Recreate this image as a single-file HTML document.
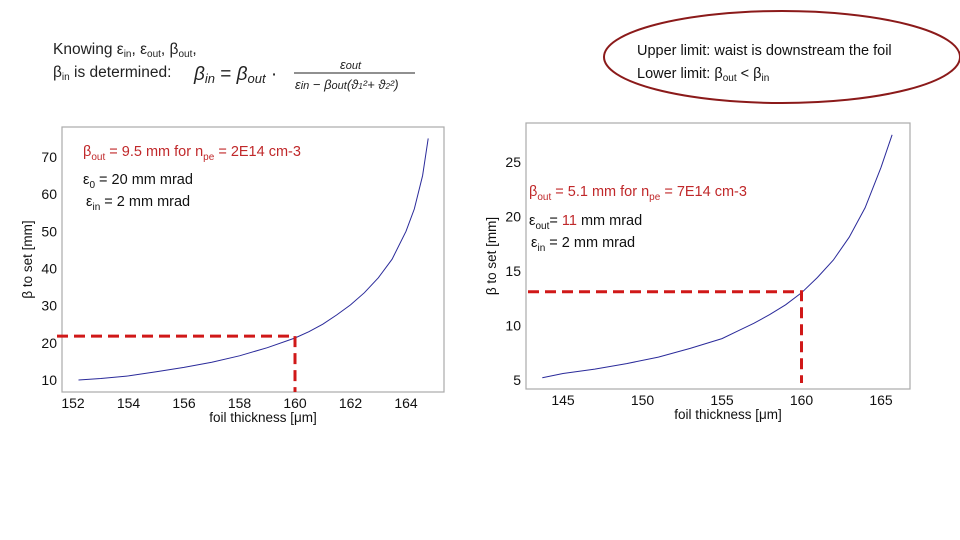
<!DOCTYPE html>
<html><head><meta charset="utf-8"><style>
body{margin:0;background:#fff;}
#root{position:relative;width:960px;height:540px;overflow:hidden;font-family:"Liberation Sans",sans-serif;}
text{font-family:"Liberation Sans",sans-serif;}
</style></head><body>
<div id="root">
<svg id="svg" width="960" height="540">
 <g fill="#222">
  <text x="53" y="54" font-size="15.5">Knowing  ε<tspan font-size="10" dy="3">in</tspan><tspan dy="-3">, ε</tspan><tspan font-size="10" dy="3">out</tspan><tspan dy="-3">, β</tspan><tspan font-size="10" dy="3">out</tspan><tspan dy="-3">,</tspan></text>
  <text x="53" y="77" font-size="15.5">β<tspan font-size="10" dy="3">in</tspan><tspan dy="-3"> is determined:</tspan></text>
  <text x="194" y="80" font-size="19" font-style="italic" font-family="Liberation Serif">β<tspan font-size="13" dy="3">in</tspan><tspan dy="-3" font-style="normal">  =  </tspan>β<tspan font-size="13" dy="3">out</tspan><tspan dy="-3" font-style="normal"> ·</tspan></text>
  <text x="340" y="69" font-size="13" font-style="italic" font-family="Liberation Serif">ε<tspan font-size="11">out</tspan></text>
  <line x1="294" y1="73" x2="415" y2="73" stroke="#222" stroke-width="1"/>
  <text x="295" y="89" font-size="13" font-style="italic" font-family="Liberation Serif">ε<tspan font-size="11">in</tspan> − β<tspan font-size="11">out</tspan>(ϑ<tspan font-size="8">1</tspan>²+ ϑ<tspan font-size="8">2</tspan>²)</text>
 </g>
 <g>
  <ellipse cx="782" cy="57" rx="178" ry="46" fill="none" stroke="#8b1a1a" stroke-width="2"/>
  <text x="637" y="55" font-size="14.5" fill="#111">Upper limit: waist is downstream the foil</text>
  <text x="637" y="78" font-size="14.5" fill="#111">Lower limit: β<tspan font-size="10" dy="3">out</tspan><tspan dy="-3"> &lt; β</tspan><tspan font-size="10" dy="3">in</tspan></text>
 </g>
 <g id="left"></g>
 <g id="right"></g>
</svg>
</div>
<script>
const leftX=[152.2,153,154,155,156,157,158,159,160,160.5,161,161.5,162,162.5,163,163.5,164,164.3,164.6,164.8];
const leftY=[10,10.4,11.1,12.2,13.4,14.8,16.5,18.7,21.3,23,25,27.5,30.2,33.5,37.5,42.5,50,56,65,75];
const leftXTicks=[152,154,156,158,160,162,164];
const leftYTicks=[10,20,30,40,50,60,70];
const rightX=[143.7,145,147,149,151,153,155,156,157,158,159,160,161,162,163,164,165,165.7];
const rightY=[5.2,5.6,6.0,6.5,7.1,7.9,8.8,9.5,10.2,11.0,11.9,13.0,14.4,16.0,18.1,20.8,24.5,27.5];
const rightXTicks=[145,150,155,160,165];
const rightYTicks=[5,10,15,20,25];
const NS='http://www.w3.org/2000/svg';
function mk(parent,tag,attrs){const e=document.createElementNS(NS,tag);for(const k in attrs)e.setAttribute(k,attrs[k]);parent.appendChild(e);return e;}
function chart(g,cfg){
 const sx=v=>cfg.x0p+(v-cfg.x0)*cfg.kx, sy=v=>cfg.y0p-(v-cfg.y0)*cfg.ky;
 const box=mk(g,'rect',{x:cfg.bx,y:cfg.by,width:cfg.bw,height:cfg.bh,fill:'none',stroke:'#aaa','stroke-width':1.2});
 
 
 cfg.xt.forEach(t=>{const tx=mk(g,'text',{x:sx(t),y:cfg.by+cfg.bh+16,'font-size':14,'text-anchor':'middle',fill:'#111'});tx.textContent=t;
  
  });
 cfg.yt.forEach(t=>{const tx=mk(g,'text',{x:cfg.bx-5,y:sy(t)+5,'font-size':14,'text-anchor':'end',fill:'#111'});tx.textContent=t;
  
  });
 const xl=mk(g,'text',{x:cfg.bx+cfg.bw/2+10,y:cfg.by+cfg.bh+30,'font-size':13.5,'text-anchor':'middle',fill:'#111'});xl.textContent='foil thickness [μm]';
 
 
 const cy=cfg.by+cfg.bh/2;
 const yl=mk(g,'text',{x:cfg.bx-30,y:cy,'font-size':13.5,'text-anchor':'middle',fill:'#111',transform:`rotate(-90 ${cfg.bx-30} ${cy})`});yl.textContent='β to set [mm]';
 
 
 const d=cfg.xs.map((v,i)=>(i?'L':'M')+sx(v).toFixed(1)+' '+sy(cfg.ys[i]).toFixed(1)).join(' ');
 const p=mk(g,'path',{d:d,fill:'none',stroke:'#2a2a9a','stroke-width':1});
 
 
 const h=mk(g,'path',{d:`M${cfg.dx0} ${sy(cfg.mv)} L${sx(cfg.mx)} ${sy(cfg.mv)} L${sx(cfg.mx)} ${cfg.dy1}`,fill:'none',stroke:'#d01818','stroke-width':3,'stroke-dasharray':'11 6'});
 
 
}
chart(document.getElementById('left'),{bx:62,by:127,bw:382,bh:265,x0:152,x0p:73,kx:27.75,y0:10,y0p:380,ky:3.717,xt:leftXTicks,yt:leftYTicks,xs:leftX,ys:leftY,mx:160,mv:21.8,dx0:57,dy1:392});
chart(document.getElementById('right'),{bx:526,by:123,bw:384,bh:266,x0:145,x0p:563,kx:15.9,y0:5,y0p:380,ky:10.9,xt:rightXTicks,yt:rightYTicks,xs:rightX,ys:rightY,mx:160,mv:13.1,dx0:528,dy1:383});
</script>
<div style="position:absolute;left:0;top:0;width:960px;height:540px;pointer-events:none;font-family:'Liberation Sans',sans-serif;">
 <div style="position:absolute;left:83px;top:144px;font-size:14.5px;color:#c0282a;">β<sub style="font-size:10px">out</sub> = 9.5 mm for n<sub style="font-size:10px">pe</sub> = 2E14 cm-3</div>
 <div style="position:absolute;left:83px;top:172px;font-size:14.5px;color:#111;">ε<sub style="font-size:10px">0</sub> = 20 mm mrad</div>
 <div style="position:absolute;left:86px;top:194px;font-size:14.5px;color:#111;">ε<sub style="font-size:10px">in</sub> = 2 mm mrad</div>
 <div style="position:absolute;left:529px;top:184px;font-size:14.5px;color:#c0282a;">β<sub style="font-size:10px">out</sub> = 5.1 mm for n<sub style="font-size:10px">pe</sub> = 7E14 cm-3</div>
 <div style="position:absolute;left:529px;top:213px;font-size:14.5px;color:#111;">ε<sub style="font-size:10px">out</sub>= <span style="color:#c0282a">11</span> mm mrad</div>
 <div style="position:absolute;left:531px;top:235px;font-size:14.5px;color:#111;">ε<sub style="font-size:10px">in</sub> = 2 mm mrad</div>
</div>
</body></html>
